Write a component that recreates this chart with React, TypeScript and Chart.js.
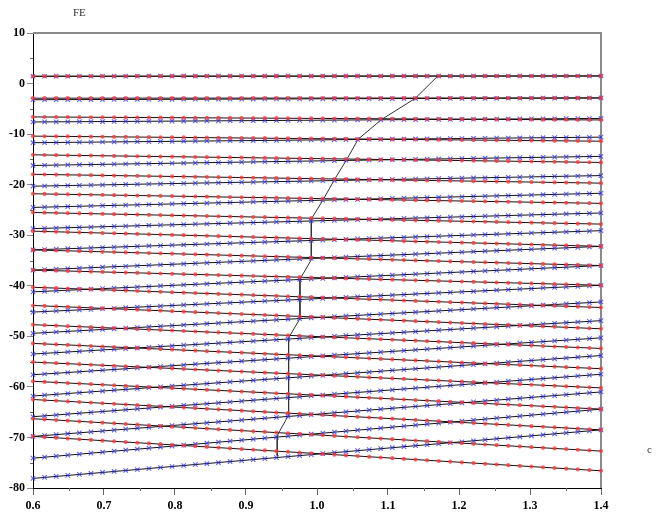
import { useEffect, useRef } from "react";
import { Chart, registerables } from "chart.js";

Chart.register(...registerables);

// ---- data ----
const cStart = 0.6;
const cEnd = 1.4;
const markersPerLine = 50;

// red "o" family (FE at c = 0.6 and at c = 1.4)
const redStart = [1.44, -2.9, -6.6, -10.4, -14.1, -17.95, -21.8, -25.5, -29.2, -32.9, -36.9, -40.3, -43.9, -47.7, -51.4, -55.1, -58.9, -62.5, -66.3, -69.8];
const redEnd = [1.5, -2.85, -7.2, -11.4, -15.6, -19.7, -23.7, -27.8, -32.2, -36.0, -39.9, -44.3, -48.5, -52.4, -56.4, -60.2, -64.4, -68.5, -72.7, -76.6];

// blue "x" family (FE at c = 0.6 and at c = 1.4)
const blueStart = [1.44, -3.2, -7.6, -11.7, -16.2, -20.3, -24.5, -28.7, -32.9, -36.9, -41.2, -45.2, -49.4, -53.5, -57.6, -61.8, -65.9, -69.8, -74.1, -78.1];
const blueEnd = [1.5, -2.85, -6.9, -10.6, -14.4, -18.2, -21.7, -25.6, -29.1, -32.2, -36.0, -39.9, -43.2, -46.9, -50.3, -53.8, -57.5, -61.0, -64.4, -68.5];

// black polyline
const pathC = [1.171, 1.138, 1.091, 1.058, 1.042, 1.025, 1.009, 0.992, 0.992, 0.976, 0.976, 0.96, 0.96, 0.944, 0.944];
const pathFE = [1.6, -2.96, -7.1, -11.0, -15.0, -18.9, -22.9, -26.8, -34.85, -38.7, -46.5, -50.3, -65.6, -69.6, -73.65];

const yMin = -80;
const yMax = 10;
const yStep = 10;
const yMinorStep = 5;
const xStep = 0.1;
const xMinorStep = 0.05;

const titleText = "FE";
const xAxisText = "c";

const tickFont = { family: "'Liberation Serif', 'DejaVu Serif', serif", size: 12, weight: "bold" as const };

const decorPlugin = {
  id: "decor",
  beforeDatasetsDraw(chart: any) {
    const { ctx, chartArea, scales } = chart;
    ctx.save();
    ctx.strokeStyle = "#8a8a8a";
    ctx.lineWidth = 2;
    ctx.beginPath();
    ctx.moveTo(chartArea.left, chartArea.top);
    ctx.lineTo(chartArea.right, chartArea.top);
    ctx.lineTo(chartArea.right, chartArea.bottom);
    ctx.stroke();
    ctx.strokeStyle = "#666";
    ctx.lineWidth = 1;
    ctx.beginPath();
    for (let v = yMin + yMinorStep; v < yMax; v += yStep) {
      const y = Math.round(scales.y.getPixelForValue(v)) + 0.5;
      ctx.moveTo(chartArea.left - 3, y);
      ctx.lineTo(chartArea.left, y);
    }
    for (let v = cStart + xMinorStep; v < cEnd; v += xStep) {
      const x = Math.round(scales.x.getPixelForValue(v)) + 0.5;
      ctx.moveTo(x, chartArea.bottom);
      ctx.lineTo(x, chartArea.bottom + 3);
    }
    ctx.stroke();
    ctx.restore();
  },
  afterDatasetsDraw(chart: any) {
    const { ctx } = chart;
    ctx.save();
    chart.data.datasets.forEach((ds: any, i: number) => {
      if (!ds.markerKind) return;
      const meta = chart.getDatasetMeta(i);
      const p0 = meta.data[0];
      const p1 = meta.data[meta.data.length - 1];
      for (let k = 0; k < markersPerLine; k++) {
        const t = k / (markersPerLine - 1);
        const x = p0.x + (p1.x - p0.x) * t;
        const y = p0.y + (p1.y - p0.y) * t;
        if (ds.markerKind === "cross") {
          ctx.strokeStyle = "rgba(55,55,255,0.8)";
          ctx.lineWidth = 1.1;
          ctx.beginPath();
          ctx.moveTo(x - 2.2, y - 2.2);
          ctx.lineTo(x + 2.2, y + 2.2);
          ctx.moveTo(x + 2.2, y - 2.2);
          ctx.lineTo(x - 2.2, y + 2.2);
          ctx.stroke();
        } else {
          ctx.fillStyle = "rgba(255,55,55,0.78)";
          ctx.beginPath();
          ctx.arc(x, y, 2.1, 0, Math.PI * 2);
          ctx.fill();
        }
      }
    });
    ctx.restore();
  },
  afterDraw(chart: any) {
    const { ctx } = chart;
    ctx.save();
    ctx.fillStyle = "#333";
    ctx.font = "11px 'Liberation Serif', serif";
    ctx.textBaseline = "middle";
    ctx.textAlign = "left";
    ctx.fillText(titleText, 73, 13);
    ctx.fillText(xAxisText, 647, 450);
    ctx.restore();
  },
};

export default function App() {
  const ref = useRef<HTMLCanvasElement>(null);

  useEffect(() => {
    document.body.style.margin = "0";
    const datasets: any[] = [];
    blueStart.forEach((v, n) => {
      datasets.push({
        label: `x${n}`,
        data: [
          { x: cStart, y: v },
          { x: cEnd, y: blueEnd[n] },
        ],
        showLine: true,
        borderColor: "#111",
        borderWidth: 1,
        pointRadius: 0,
        markerKind: "cross",
      });
    });
    redStart.forEach((v, n) => {
      datasets.push({
        label: `o${n}`,
        data: [
          { x: cStart, y: v },
          { x: cEnd, y: redEnd[n] },
        ],
        showLine: true,
        borderColor: "#111",
        borderWidth: 1,
        pointRadius: 0,
        markerKind: "circle",
      });
    });
    datasets.push({
      label: "path",
      data: pathC.map((c, i) => ({ x: c, y: pathFE[i] })),
      showLine: true,
      borderColor: "#333",
      borderWidth: 1,
      pointRadius: 0,
    });

    const chart = new Chart(ref.current!, {
      type: "scatter",
      data: { datasets },
      options: {
        animation: false,
        responsive: false,
        devicePixelRatio: 1,
        layout: { padding: { top: 33, right: 63, left: 0, bottom: 0 } },
        plugins: { legend: { display: false }, tooltip: { enabled: false }, title: { display: false } },
        scales: {
          x: {
            type: "linear",
            min: cStart,
            max: cEnd,
            afterFit: (s: any) => {
              s.height = 39;
            },
            ticks: {
              stepSize: xStep,
              autoSkip: false,
              maxRotation: 0,
              padding: 4,
              color: "#000",
              font: tickFont,
              callback: (v: any) => Number(v).toFixed(1),
            },
            grid: { drawOnChartArea: false, drawTicks: true, tickLength: 7, tickColor: "#666" },
            border: { display: true, color: "#000", width: 1 },
          },
          y: {
            type: "linear",
            min: yMin,
            max: yMax,
            afterFit: (s: any) => {
              s.width = 33;
            },
            ticks: {
              stepSize: yStep,
              autoSkip: false,
              padding: 2,
              color: "#000",
              font: tickFont,
            },
            grid: { drawOnChartArea: false, drawTicks: true, tickLength: 6, tickColor: "#888" },
            border: { display: true, color: "#000", width: 1 },
          },
        },
      } as any,
      plugins: [decorPlugin],
    });
    return () => chart.destroy();
  }, []);

  return (
    <div style={{ width: 664, height: 527, background: "#fff" }}>
      <canvas ref={ref} width={664} height={527} style={{ display: "block", width: 664, height: 527 }} />
    </div>
  );
}
